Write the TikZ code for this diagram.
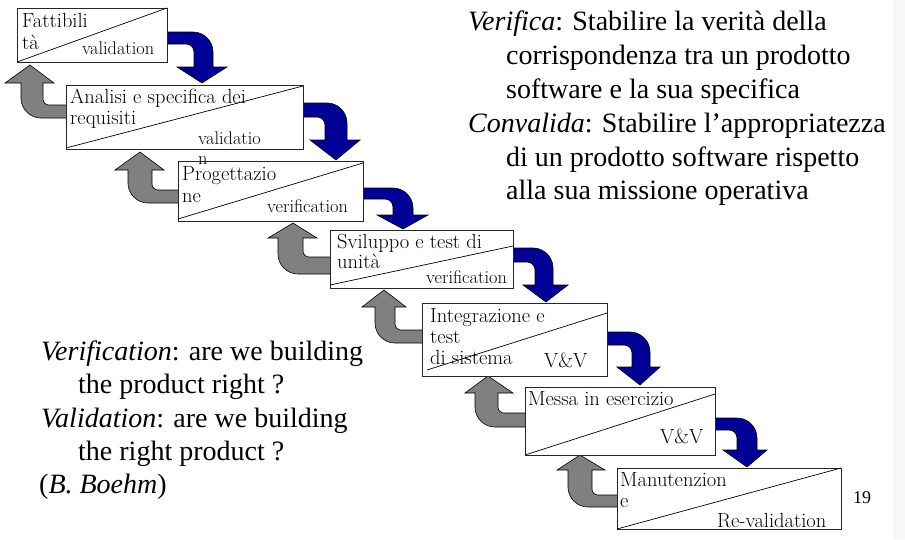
\documentclass[tikz,border=0pt]{standalone}
\usepackage{fontspec}
\newfontfamily\timesfont{Liberation Serif}
\definecolor{navy}{RGB}{0,0,150}
\definecolor{arrgray}{RGB}{128,128,128}
\tikzset{
  phase/.style={draw=black!85, fill=white, line width=0.8pt, inner sep=0pt, anchor=north west},
  diag/.style={draw=black, line width=0.7pt},
  fwd/.style={fill=navy, draw=black, line width=0.6pt},
  back/.style={fill=arrgray, draw=black, line width=0.6pt},
  btxt/.style={anchor=base west, inner sep=0pt, font=\fontsize{20.5}{22}\selectfont},
  stxt/.style={anchor=base west, inner sep=0pt, font=\fontsize{18.3}{20}\selectfont},
  bigtxt/.style={anchor=base west, inner sep=0pt, font=\timesfont\fontsize{28}{33}\selectfont},
}
% #1 xR, #2 band top, #3 band bottom, #4 shaft inner, #5 shaft outer, #6 head base, #7 head left, #8 head right, #9 tip
\newcommand\bluearrow[9]{%
  \path[fwd] (#1,#2) -- ({#5-20},#2) .. controls ({#5-9},#2) and (#5,{#2+9}) .. (#5,{#2+20})
    -- (#5,#6) -- (#8,#6) -- (#9) -- (#7,#6) -- (#4,#6) -- (#4,{#3+8})
    .. controls (#4,{#3+3.6}) and ({#4-3.6},#3) .. ({#4-8},#3) -- (#1,#3) -- cycle;}
% #1 xL, #2 band top, #3 band bottom, #4 shaft outer (left), #5 shaft inner (right), #6 head base, #7 head left, #8 head right, #9 tip
\newcommand\grayarrow[9]{%
  \path[back] (#1,#3) -- ({#4+20},#3) .. controls ({#4+9},#3) and (#4,{#3-9}) .. (#4,{#3-20})
    -- (#4,#6) -- (#7,#6) -- (#9) -- (#8,#6) -- (#5,#6) -- (#5,{#2-6})
    .. controls (#5,{#2-2.7}) and ({#5+2.7},#2) .. ({#5+6},#2) -- (#1,#2) -- cycle;}
\begin{document}
\begin{tikzpicture}[x=1pt,y=-1pt]
\useasboundingbox (0,0) rectangle (905,539);
\fill[black!3] (893,0) rectangle (905,539);

% forward (blue) arrows
\bluearrow{165}{32}{44}{194}{213}{67}{177}{227}{202,83}
\bluearrow{301}{103}{117}{325}{347}{140}{310}{360}{336,160}
\bluearrow{361}{188}{199}{393}{413}{215}{377}{428}{403,229}
\bluearrow{511}{248}{262}{535}{553}{285}{523}{568}{546,302}
\bluearrow{605}{332}{345}{632}{650}{367}{617}{660}{640,385}
\bluearrow{713}{418}{430}{737}{757}{450}{723}{767}{747,467}

% backward (gray) arrows
\grayarrow{68}{105}{118}{21}{43}{83}{5}{54}{30,65}
\grayarrow{180}{190}{203}{128}{152}{170}{115}{164}{140,152}
\grayarrow{332}{257}{274}{278}{303}{238}{268}{317}{293,223}
\grayarrow{424}{330}{343}{375}{395}{307}{362}{406}{384,290}
\grayarrow{527}{413}{427}{475}{498}{393}{465}{513}{488,376}
\grayarrow{619}{495}{507}{568}{592}{470}{557}{605}{580,455}

% phase boxes
\node[phase, minimum width=150pt, minimum height=54pt] (b1) at (17,8) {};
\node[phase, minimum width=237pt, minimum height=64pt] (b2) at (66,85) {};
\node[phase, minimum width=185pt, minimum height=60pt] (b3) at (178,161) {};
\node[phase, minimum width=183pt, minimum height=58pt] (b4) at (330,230) {};
\node[phase, minimum width=185pt, minimum height=73pt] (b5) at (422,303) {};
\node[phase, minimum width=190pt, minimum height=68pt] (b6) at (525,387) {};
\node[phase, minimum width=224pt, minimum height=61pt] (b7) at (617,468) {};

% diagonals
\draw[diag] (17,62) -- (167,8);
\draw[diag] (66,148) -- (303,86);
\draw[diag] (178,219) -- (363,163);
\draw[diag] (330,285) -- (513,246);
\draw[diag] (427,370) -- (607,313);
\draw[diag] (525,455) -- (715,394);
\draw[diag] (617,529) -- (841,468);

% box texts
\node[btxt] (t1a) at (22,27) {Fattibili};
\node[btxt] (t1b) at (22,49) {tà};
\node[stxt] (t1c) at (82,54) {validation};
\node[btxt] (t2a) at (70,103) {Analisi e specifica dei};
\node[btxt] (t2b) at (70,124) {requisiti};
\node[stxt] (t2c) at (198,144) {validatio};
\node[stxt] (t2d) at (198,164) {n};
\node[btxt] (t3a) at (182,180) {Progettazio};
\node[btxt] (t3b) at (182,202) {ne};
\node[stxt] (t3c) at (267,212) {verification};
\node[btxt] (t4a) at (337,248) {Sviluppo e test di};
\node[btxt] (t4b) at (337,268) {unità};
\node[stxt] (t4c) at (426,283) {verification};
\node[btxt] (t5a) at (430,322) {Integrazione e};
\node[btxt] (t5b) at (430,343) {test};
\node[btxt] (t5c) at (430,364) {di sistema};
\node[btxt] (t5d) at (544,367) {V\&V};
\node[btxt] (t6a) at (528,405) {Messa in esercizio};
\node[btxt] (t6b) at (660,443) {V\&V};
\node[btxt] (t7a) at (620,486) {Manutenzion};
\node[btxt] (t7b) at (620,507) {e};
\node[btxt] (t7c) at (717,527) {Re-validation};

% right explanatory text
\node[bigtxt] (r1) at (468,30) {\textit{Verifica}: Stabilire la verità della};
\node[bigtxt] (r2) at (506,64) {corrispondenza tra un prodotto};
\node[bigtxt] (r3) at (506,98) {software e la sua specifica};
\node[bigtxt] (r4) at (468,132) {\textit{Convalida}: Stabilire l’appropriatezza};
\node[bigtxt] (r5) at (506,166) {di un prodotto software rispetto};
\node[bigtxt] (r6) at (506,199) {alla sua missione operativa};

% left explanatory text
\node[bigtxt] (l1) at (41,360) {\textit{Verification}: are we building};
\node[bigtxt] (l2) at (78,393) {the product right ?};
\node[bigtxt] (l3) at (41,427) {\textit{Validation}: are we building};
\node[bigtxt] (l4) at (78,460) {the right product ?};
\node[bigtxt] (l5) at (39,493) {(\textit{B. Boehm})};

\node[anchor=base west, inner sep=0pt, font=\timesfont\fontsize{18}{20}\selectfont] (pg) at (853,503) {19};
\end{tikzpicture}
\end{document}
